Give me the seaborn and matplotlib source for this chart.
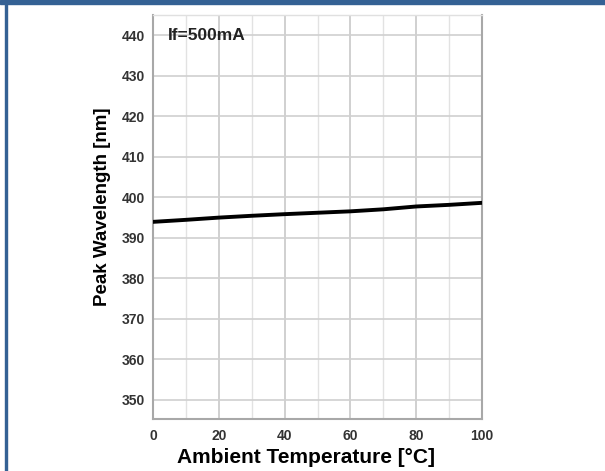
import numpy as np
import pandas as pd
import seaborn as sns
import matplotlib.pyplot as plt
from matplotlib.patches import Rectangle

# 읽어낸 값 (Ambient Temperature vs Peak Wavelength)
temperature = [0, 10, 20, 30, 40, 50, 60, 70, 80, 90, 100]
wavelength = [393.9, 394.4, 394.95, 395.4, 395.8, 396.15, 396.5, 397.0, 397.7, 398.1, 398.6]
x_ticks = [0, 20, 40, 60, 80, 100]
y_ticks = [350, 360, 370, 380, 390, 400, 410, 420, 430, 440]

df = pd.DataFrame({'temp': temperature, 'wl': wavelength})

sns.set_style('white')
plt.rcParams['font.family'] = ['Liberation Sans', 'DejaVu Sans']

fig = plt.figure(figsize=(6.05, 4.71), dpi=100)
ax = fig.add_axes([153 / 605, 52 / 471, 329 / 605, 404 / 471])

# 테두리 (파란색)
fig.patches.append(Rectangle((0, 1 - 4 / 471), 1, 4 / 471, transform=fig.transFigure,
                             color='#346194', zorder=0))
fig.patches.append(Rectangle((5 / 605, 0), 2 / 605, 1, transform=fig.transFigure,
                             color='#346194', zorder=0))

sns.lineplot(data=df, x='temp', y='wl', ax=ax, color='black', linewidth=2.8, zorder=5)

ax.set_xlim(0, 100)
ax.set_ylim(345.2, 445)
ax.set_xticks(x_ticks)
ax.set_xticks([10, 30, 50, 70, 90], minor=True)
ax.set_yticks(y_ticks)
ax.grid(which='major', axis='x', color='#c8c8c8', linewidth=1.2)
ax.grid(which='minor', axis='x', color='#e2e2e2', linewidth=1.0)
ax.grid(which='major', axis='y', color='#d0d0d0', linewidth=1.2)
ax.tick_params(which='both', length=0)
ax.tick_params(axis='y', pad=6)
ax.tick_params(axis='x', pad=7.5)

for lab in ax.get_xticklabels() + ax.get_yticklabels():
    lab.set_fontweight('bold')
    lab.set_fontsize(10)
    lab.set_color('#333333')

for s in ['left', 'bottom', 'right']:
    ax.spines[s].set_color('#a8a8a8')
    ax.spines[s].set_linewidth(1.5)
ax.spines['top'].set_color('#e0e0e0')
ax.spines['top'].set_linewidth(1.0)

ax.set_xlabel('Ambient Temperature [°C]', fontsize=15, fontweight='bold', color='black')
ax.set_ylabel('Peak Wavelength [nm]', fontsize=13.5, fontweight='bold', color='black')
ax.xaxis.set_label_coords(0.465, -0.073)
ax.yaxis.set_label_coords(-0.128, 0.525)

ax.text(0.045, 0.95, 'If=500mA', transform=ax.transAxes, fontsize=12.5,
        fontweight='bold', va='center', ha='left', color='#222222')

fig.savefig('out.png', dpi=100)
